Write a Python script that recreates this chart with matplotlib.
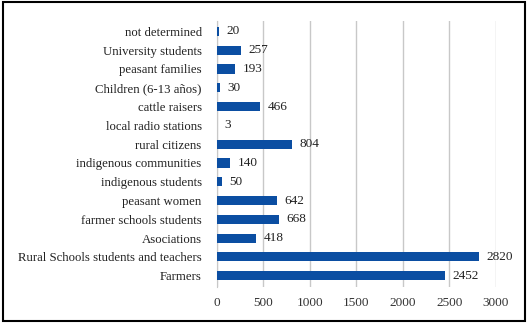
import matplotlib
matplotlib.use("Agg")
import matplotlib.pyplot as plt
from matplotlib.patches import Rectangle

categories = ["Farmers", "Rural Schools students and teachers", "Asociations",
              "farmer schools students", "peasant women", "indigenous students",
              "indigenous communities", "rural citizens", "local radio stations",
              "cattle raisers", "Children (6-13 años)", "peasant families",
              "University students", "not determined"]
values = [2452, 2820, 418, 668, 642, 50, 140, 804, 3, 466, 30, 193, 257, 20]
xticks = [0, 500, 1000, 1500, 2000, 2500, 3000]

plt.rcParams['font.family'] = ['Liberation Serif', 'DejaVu Serif']
fig = plt.figure(figsize=(5.28, 3.24), dpi=100)
ax = fig.add_axes([0.411, 0.114, 0.528, 0.821])
y = list(range(len(categories)))
ax.barh(y, values, height=0.48, color='#0b4ea2', zorder=3)
for yi, v in zip(y, values):
    ax.text(v + 80, yi, str(v), va='center', ha='left', fontsize=9.5, color='#222222')
ax.set_yticks(y)
ax.set_yticklabels(categories, fontsize=9.2, color='#222222')
ax.set_xticks(xticks)
ax.set_xticklabels([str(t) for t in xticks], fontsize=9.5, color='#333333')
ax.set_xlim(0, 3000)
ax.set_ylim(-0.6, len(categories) - 0.45)
ax.grid(axis='x', color='#c8c8c8', linewidth=1, zorder=0)
for s in ['top', 'right', 'bottom']:
    ax.spines[s].set_visible(False)
ax.spines['left'].set_color('#c8c8c8')
ax.tick_params(axis='y', length=0, pad=11)
ax.tick_params(axis='x', length=0, pad=7)
fig.patches.append(Rectangle((0.006, 0.008), 0.988, 0.985, transform=fig.transFigure,
                             fill=False, edgecolor='black', linewidth=1.5))
fig.savefig('out.png', dpi=100)
